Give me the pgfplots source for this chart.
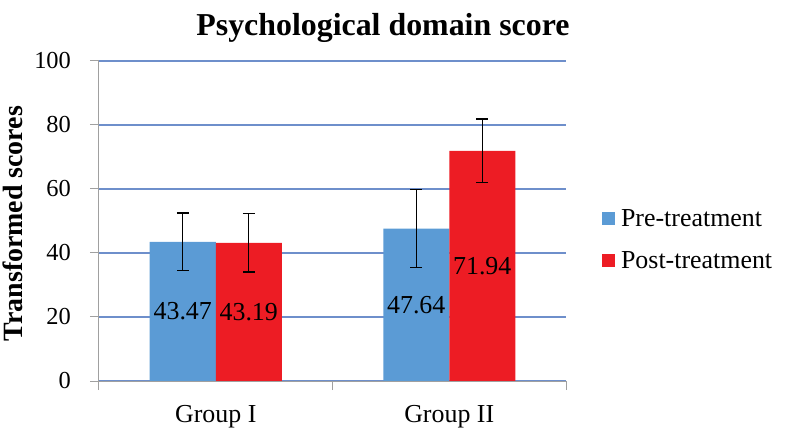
\documentclass[border=0pt]{standalone}
\usepackage{fontspec}
\setmainfont{Liberation Serif}
\usepackage{pgfplots}
\pgfplotsset{compat=1.18}
\definecolor{preblue}{HTML}{5B9BD5}
\definecolor{postred}{HTML}{ED1C24}
\definecolor{gridblue}{HTML}{6E8FCB}
\definecolor{axgray}{HTML}{A0A0A0}

\begin{document}
\begin{tikzpicture}
\path[use as bounding box] (-99bp,-49bp) rectangle (688bp,381bp);
\begin{axis}[
  scale only axis, width=467bp, height=320bp,
  at={(0,0)}, anchor=south west,
  ybar=0pt, bar width=66bp,
  xmin=-0.5, xmax=1.5, ymin=0, ymax=100,
  xtick={-0.5,0.5,1.5}, xticklabels={},
  extra x ticks={0,1}, extra x tick labels={Group I, Group II},
  extra x tick style={major tick length=0pt},
  ytick={0,20,...,100},
  ymajorgrids,
  y grid style={draw=gridblue, line width=1.8bp},
  axis x line*=bottom, axis y line*=left,
  axis line style={axgray, line width=1bp},
  major tick style={draw=axgray, line width=1bp},
  tick align=outside, major tick length=9bp,
  /pgf/number format/assume math mode=true,
  yticklabel style={font=\fontsize{24.5}{28}\selectfont, inner sep=0pt, anchor=east, xshift=-19pt},
  xticklabel style={font=\fontsize{26}{30}\selectfont, inner sep=0pt, anchor=north, yshift=-24pt},
  title={Psychological domain score},
  title style={at={(axis description cs:0.608,1.060)}, anchor=base, font=\bfseries\fontsize{32}{36}\selectfont, inner sep=0pt},
  ylabel={Transformed scores},
  ylabel style={at={(axis description cs:-0.184,0.492)}, anchor=center, font=\bfseries\fontsize{28}{32}\selectfont, inner sep=0pt},
  legend image code/.code={\fill[#1] (0pt,-6.2pt) rectangle (13pt,6.8pt); \path (19pt,0pt);},
  legend style={at={(axis description cs:1.077,0.441)}, anchor=west, draw=none, fill=none,
    inner sep=0pt, row sep=24pt, font=\fontsize{26}{30}\selectfont,
    nodes={inner sep=0pt}},
  legend cell align=left,
  nodes near coords={\pgfmathprintnumber[fixed,fixed zerofill,precision=2]{\pgfplotspointmeta}},
  visualization depends on={y \as \rawy},
  every node near coord/.append style={font=\fontsize{26}{30}\selectfont, black, anchor=center,
    inner sep=0pt, shift={(axis direction cs:0,-\rawy/2)}},
  error bars/error bar style={black, line width=1.3pt},
  error bars/error mark options={rotate=90, mark size=6pt, black, line width=1.3pt},
]
\addplot[fill=preblue, draw=none, error bars/.cd, y dir=both, y explicit]
  coordinates {(0,43.47) +- (0,9.0) (1,47.64) +- (0,12.2)};
\addplot[fill=postred, draw=none, error bars/.cd, y dir=both, y explicit]
  coordinates {(0,43.19) +- (0,9.1) (1,71.94) +- (0,9.9)};
\legend{Pre-treatment, Post-treatment}
\end{axis}
\end{tikzpicture}
\end{document}
